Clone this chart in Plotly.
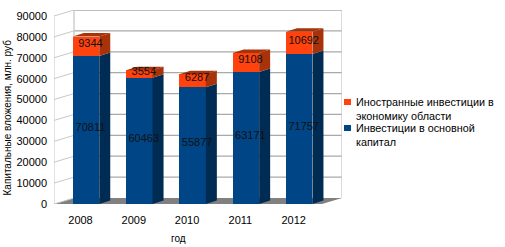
import plotly.graph_objects as go

years = ["2008", "2009", "2010", "2011", "2012"]
capital = [70811, 60463, 55877, 63171, 71757]
foreign = [9344, 3554, 6287, 9108, 10692]
y_ticks = [0, 10000, 20000, 30000, 40000, 50000, 60000, 70000, 80000, 90000]
legend_foreign = "Иностранные инвестиции в<br>экономику области"
legend_capital = "Инвестиции в основной<br>капитал"
y_title = "Капитальные вложения, млн. руб"
x_title = "год"

W, H = 505, 247
L, R, T, B = 54, 342, 10, 204          # plot box in pixels
PX_X = 53.3                            # pixels per category
PX_Y = 188 / 90000                     # pixels per value unit
x0 = (L - 86) / PX_X
x1 = (R - 86) / PX_X
y1 = (B - T) / PX_Y
BAR_W = 26.5 / PX_X
BAR_DX, BAR_DY = 11 / PX_X, 3.5 / PX_Y
WALL_DX, WALL_DY = 20 / PX_X, 6 / PX_Y

BLUE, BLUE_D = "#004586", "#002b53"
ORANGE, ORANGE_D = "#ff420e", "#a8320a"
GRID = "#a9a9a9"
WALL = "#c8c8c8"
FLOOR = "#808080"
FONT = "Liberation Sans"


def px(xp):
    return (xp - L) / (R - L)


def py(yp):
    return (B - yp) / (B - T)


xs = list(range(len(years)))
fig = go.Figure()
fig.add_bar(x=xs, y=capital, width=BAR_W, marker=dict(color=BLUE, line_width=0),
            name="Инвестиции в основной капитал", showlegend=False)
fig.add_bar(x=xs, y=foreign, width=BAR_W, marker=dict(color=ORANGE, line_width=0),
            name="Иностранные инвестиции в экономику области", showlegend=False)


def poly(xv, yv, color):
    fig.add_scatter(x=xv, y=yv, mode="lines", fill="toself", fillcolor=color,
                    line=dict(width=0, color=color), hoverinfo="skip", showlegend=False)


for i in xs:
    r = i + BAR_W / 2
    l = i - BAR_W / 2
    a = capital[i]
    t = a + foreign[i]
    poly([r, r + BAR_DX, r + BAR_DX, r, r], [0, BAR_DY, a + BAR_DY, a, 0], BLUE_D)
    poly([r, r + BAR_DX, r + BAR_DX, r, r], [a, a + BAR_DY, t + BAR_DY, t, a], ORANGE_D)
    poly([l, l + BAR_DX, r + BAR_DX, r, l], [t, t + BAR_DY, t + BAR_DY, t, t], ORANGE_D)

label_x = [i + 4.5 / PX_X for i in xs]
fig.add_scatter(x=label_x, y=[c / 2 + 1000 for c in capital], mode="text",
                text=[str(v) for v in capital], textfont=dict(family=FONT, size=11, color="#111"),
                hoverinfo="skip", showlegend=False)
fig.add_scatter(x=label_x, y=[c + f / 2 + 1000 for c, f in zip(capital, foreign)], mode="text",
                text=[str(v) for v in foreign], textfont=dict(family=FONT, size=11, color="#111"),
                hoverinfo="skip", showlegend=False)

shapes = []


def seg(xa, ya, xb, yb, color=GRID, w=1.3):
    shapes.append(dict(type="line", x0=xa, y0=ya, x1=xb, y1=yb, xref="x", yref="y",
                       layer="below", line=dict(color=color, width=w)))


shapes.append(dict(type="path", xref="x", yref="y", layer="below", line_width=0, fillcolor=FLOOR,
                   path=f"M{x0},0 L{x0 + WALL_DX},{WALL_DY} L{x1},{WALL_DY} L{x1 - WALL_DX},0 Z"))
for v in y_ticks:
    seg(x0, v, x0 + WALL_DX, v + WALL_DY, WALL, 1)
    if v:
        seg(x0 + WALL_DX, v + WALL_DY, x1, v + WALL_DY)
seg(x0, 0, x0, y_ticks[-1], WALL, 1)
seg(x0 + WALL_DX, WALL_DY, x0 + WALL_DX, y_ticks[-1] + WALL_DY, WALL, 1.3)
seg(x1, WALL_DY, x1, y_ticks[-1] + WALL_DY, WALL, 1.3)

for color, ytop in ((ORANGE, 99), (BLUE, 125)):
    shapes.append(dict(type="rect", xref="paper", yref="paper", layer="above", line_width=0,
                       fillcolor=color, x0=px(344), x1=px(351), y0=py(ytop + 6), y1=py(ytop)))

annotations = [
    dict(text=legend_foreign, x=px(353.5), y=py(108.5), xanchor="left", yanchor="middle", align="left", size=10.8),
    dict(text=legend_capital, x=px(353.5), y=py(135), xanchor="left", yanchor="middle", align="left", size=10.8),
    dict(text=y_title, x=px(7), y=py(117.5), xanchor="center", yanchor="middle", textangle=-90, size=10),
    dict(text=x_title, x=px(178), y=py(238), xanchor="center", yanchor="middle", size=10),
]
for a in annotations:
    size = a.pop("size")
    a.update(xref="paper", yref="paper", showarrow=False, font=dict(family=FONT, size=size, color="#000"))

fig.update_layout(
    width=W, height=H, margin=dict(l=L, r=W - R, t=T, b=H - B, autoexpand=False),
    barmode="stack", paper_bgcolor="white", plot_bgcolor="white", showlegend=False,
    font=dict(family=FONT, size=11, color="#000"), shapes=shapes, annotations=annotations,
    xaxis=dict(range=[x0, x1], showgrid=False, zeroline=False, showline=False, ticks="",
               tickmode="array", tickvals=[i - 5.5 / PX_X for i in xs], ticktext=years,
               ticklabelstandoff=8, tickfont=dict(size=11)),
    yaxis=dict(range=[0, y1], showgrid=False, zeroline=False, showline=False, ticks="",
               tickmode="array", tickvals=y_ticks, ticktext=[str(v) for v in y_ticks],
               ticklabelstandoff=6, tickfont=dict(size=11)),
)
fig.write_html("out.html", config=dict(displayModeBar=False),
               post_script="document.body.style.margin='0';document.body.style.overflow='hidden';")
